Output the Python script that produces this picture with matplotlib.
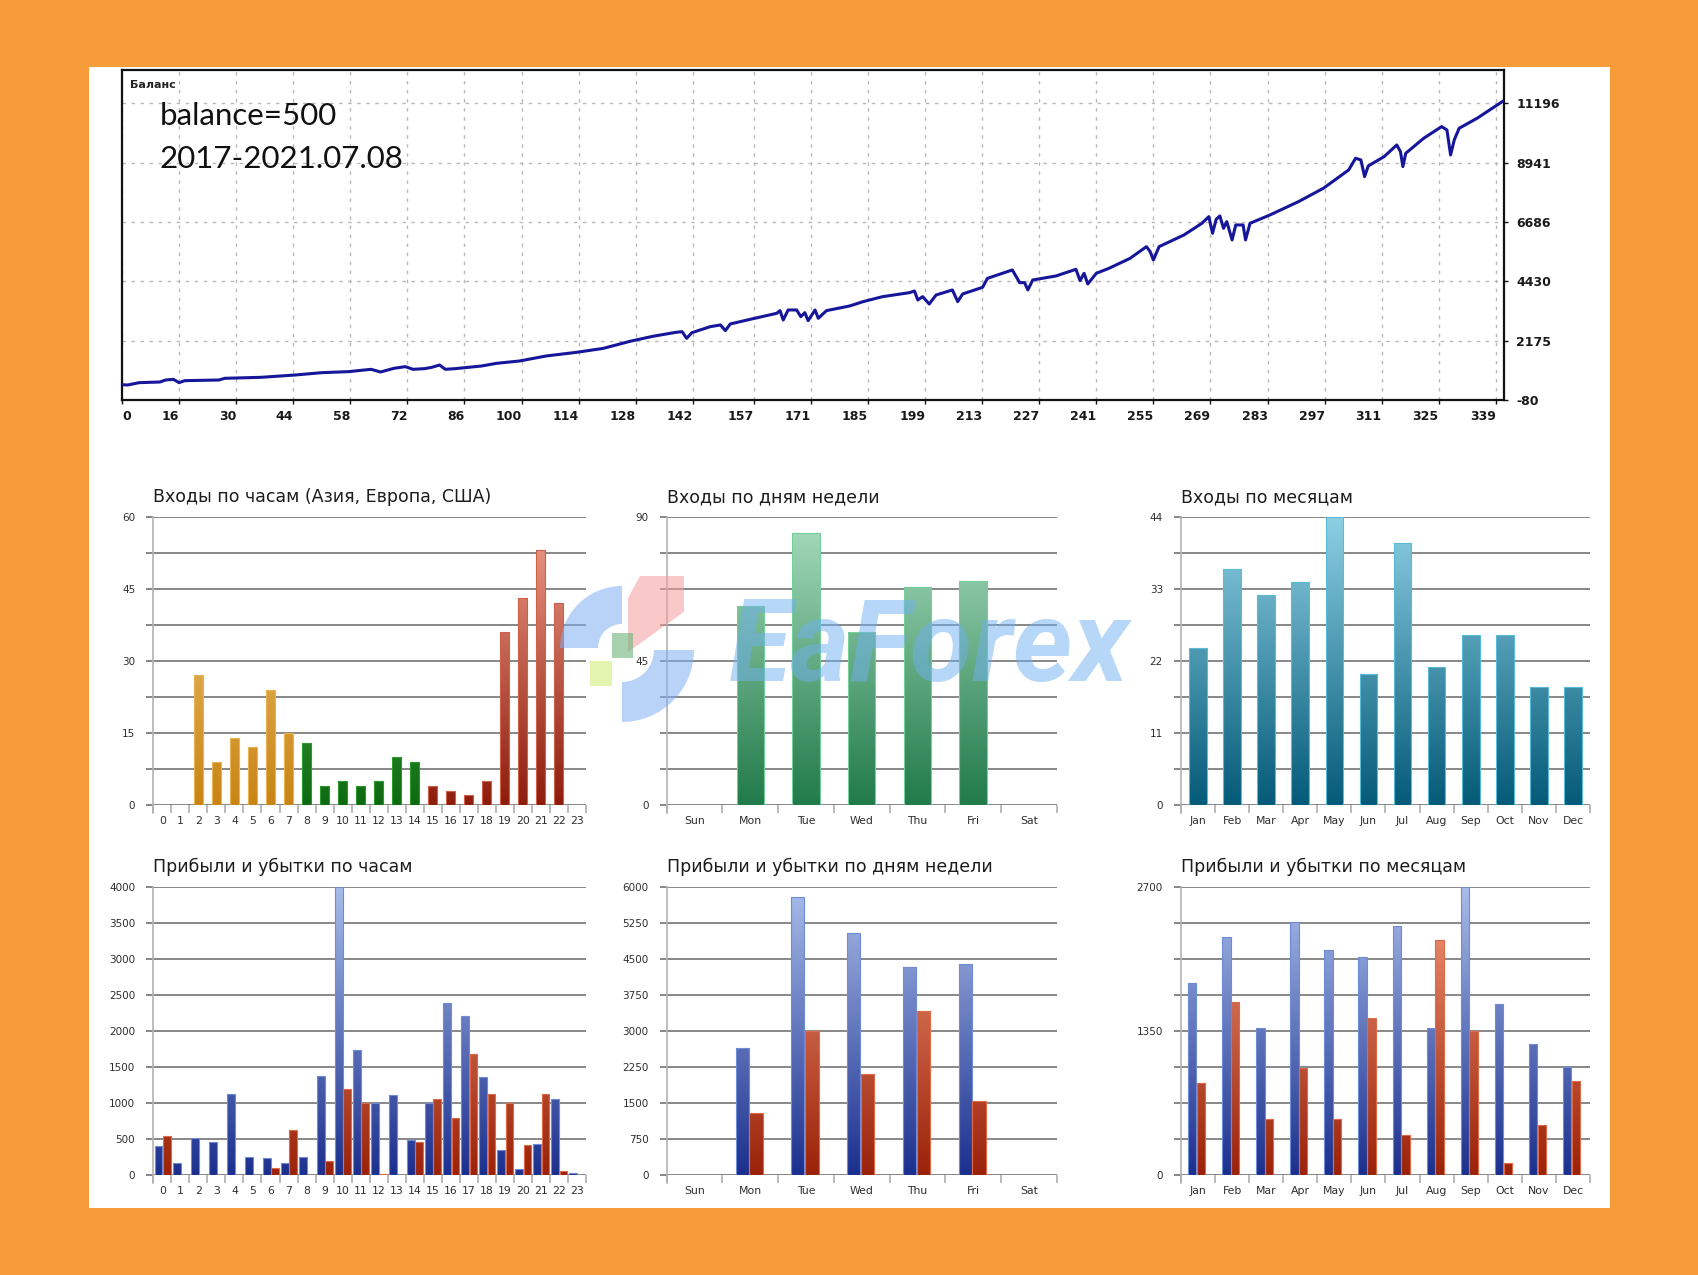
import numpy as np
import matplotlib
matplotlib.use("Agg")
import matplotlib.pyplot as plt
from matplotlib.patches import Rectangle, Wedge, Polygon
from matplotlib.colors import LinearSegmentedColormap

# ---------------- data ----------------
bal_trade = [2, 3.4, 6.2, 11.3, 12.7, 14.6, 16, 17.4, 25.8, 27.2, 36.1, 44.5, 51, 57.5, 63.1, 65.4,
             68.7, 71.5, 73.4, 76.2, 78, 79.9, 81.3, 83.7, 90.2, 93.9, 99.5, 106, 113.5, 120, 126.6,
             132.2, 137.8, 139.4, 140.5, 141.8, 146.3, 148.8, 150, 151.2, 156.1, 162.6, 163.4, 164.2,
             165.4, 167.5, 168.5, 169.5, 170.3, 172, 172.8, 174.8, 180.5, 183.8, 188.6, 195.2, 196.4,
             197.2, 198.4, 200, 201.7, 205.7, 207, 208.2, 213.1, 214.3, 220.4, 222.2, 223.4, 224.2,
             225.4, 231.1, 236, 237, 238, 238.9, 241, 244.1, 249.3, 253.3, 254.2, 255, 256.4, 262.5,
             266.9, 268.6, 269.5, 270.4, 271.3, 272.2, 273, 274.3, 275.2, 277, 277.6, 278.7, 283.6,
             290.6, 296.7, 302.9, 304.6, 305.9, 306.8, 307.7, 311.6, 314.7, 315.6, 316.2, 316.9,
             321.3, 325.7, 327, 327.9, 328.8, 330, 334.4, 340.6]
bal_value = [500, 490, 579, 604, 680, 705, 579, 655, 680, 744, 782, 870, 959, 997, 1086, 984,
             1124, 1187, 1086, 1111, 1162, 1250, 1086, 1111, 1212, 1314, 1402, 1592, 1732, 1880, 2150,
             2340, 2490, 2517, 2264, 2479, 2707, 2771, 2555, 2809, 2986, 3214, 3316, 2961,
             3341, 3341, 3087, 3239, 2935, 3341, 3024, 3316, 3493, 3658, 3848, 4000, 4063,
             3721, 3848, 3569, 3911, 4101, 3658, 3949, 4202, 4544, 4861, 4380, 4380, 4101,
             4481, 4633, 4887, 4456, 4734, 4329, 4735, 4924, 5305, 5748, 5558, 5241, 5748, 6192,
             6635, 6889, 6255, 6787, 6914, 6445, 6698, 6002, 6572, 6572, 6002, 6635, 6952,
             7459, 7966, 8662, 9106, 9042, 8409, 8814, 9169, 9612, 9359, 8789, 9296,
             9866, 10309, 10182, 9232, 9803, 10246, 10626, 11260]
bal_xtick_labels = [0, 16, 30, 44, 58, 72, 86, 100, 114, 128, 142, 157, 171, 185, 199, 213, 227,
                    241, 255, 269, 283, 297, 311, 325, 339]
bal_yticks = [-80, 2175, 4430, 6686, 8941, 11196]
bal_ylim = [-80, 12460]

hour_labels = [str(h) for h in range(24)]
entries_hour = [0, 0, 27, 9, 14, 12, 24, 15, 13, 4, 5, 4, 5, 10, 9, 4, 3, 2, 5, 36, 43, 53, 42, 0]
hour_session = ["asia"] * 8 + ["europe"] * 7 + ["usa"] * 9

day_labels = ["Sun", "Mon", "Tue", "Wed", "Thu", "Fri", "Sat"]
entries_day = [0, 62, 85, 54, 68, 70, 0]

month_labels = ["Jan", "Feb", "Mar", "Apr", "May", "Jun", "Jul", "Aug", "Sep", "Oct", "Nov", "Dec"]
entries_month = [24, 36, 32, 34, 44, 20, 40, 21, 26, 26, 18, 18]

profit_hour = [400, 160, 510, 460, 1120, 250, 230, 160, 250, 1380, 4000, 1730, 1000, 1110, 480,
               1000, 2390, 2200, 1360, 340, 80, 430, 1050, 25]
loss_hour = [540, 0, 0, 0, 0, 0, 100, 620, 0, 200, 1190, 1000, 15, 0, 460, 1050, 790, 1680, 1130,
             1000, 420, 1120, 50, 0]
profit_day = [0, 2650, 5780, 5030, 4320, 4400, 0]
loss_day = [0, 1300, 3000, 2100, 3410, 1550, 0]
profit_month = [1800, 2225, 1380, 2370, 2110, 2045, 2335, 1375, 2700, 1600, 1225, 1015]
loss_month = [860, 1620, 520, 1000, 520, 1470, 375, 2200, 1350, 110, 470, 885]

yt_entries_hour = [0, 7.5, 15, 22.5, 30, 37.5, 45, 52.5, 60]
yl_entries_hour = ["0", "", "15", "", "30", "", "45", "", "60"]
yt_entries_day = [0, 11.25, 22.5, 33.75, 45, 56.25, 67.5, 78.75, 90]
yl_entries_day = ["0", "", "", "", "45", "", "", "", "90"]
yt_entries_month = [0, 5.5, 11, 16.5, 22, 27.5, 33, 38.5, 44]
yl_entries_month = ["0", "", "11", "", "22", "", "33", "", "44"]
yt_pl_hour = [0, 500, 1000, 1500, 2000, 2500, 3000, 3500, 4000]
yl_pl_hour = ["0", "500", "1000", "1500", "2000", "2500", "3000", "3500", "4000"]
yt_pl_day = [0, 750, 1500, 2250, 3000, 3750, 4500, 5250, 6000]
yl_pl_day = ["0", "750", "1500", "2250", "3000", "3750", "4500", "5250", "6000"]
yt_pl_month = [0, 337.5, 675, 1012.5, 1350, 1687.5, 2025, 2362.5, 2700]
yl_pl_month = ["0", "", "", "", "1350", "", "", "", "2700"]

titles = ["Входы по часам (Азия, Европа, США)", "Входы по дням недели", "Входы по месяцам",
          "Прибыли и убытки по часам", "Прибыли и убытки по дням недели",
          "Прибыли и убытки по месяцам"]

# ---------------- styling ----------------
W, H, DPI = 1699, 1275, 100
plt.rcParams["font.family"] = ["DejaVu Sans"]
fig = plt.figure(figsize=(W / DPI, H / DPI), dpi=DPI, facecolor="#F89B3A")


def fx(x):
    return x / W


def fy(y):
    return 1 - y / H


fig.patches.append(Rectangle((fx(89), fy(1208)), fx(1610) - fx(89), fy(67) - fy(1208),
                             transform=fig.transFigure, facecolor="white", edgecolor="none",
                             zorder=-1))

# ---- balance chart ----
axb = fig.add_axes([fx(122), fy(400), fx(1504) - fx(122), fy(70) - fy(400)])
axb.set_facecolor("white")
axb.plot(bal_trade, bal_value, color="#16169a", lw=2.2, solid_joinstyle="round", zorder=3)
axb.set_xlim(bal_trade[0], 341)
axb.set_ylim(*bal_ylim)
xt_pos = np.clip(np.array(bal_xtick_labels, dtype=float), bal_trade[0], None)
axb.set_xticks(xt_pos)
axb.set_xticklabels([str(v) for v in bal_xtick_labels])
for i, lab in enumerate(axb.get_xticklabels()):
    lab.set_ha("left" if i == 0 else "right")
axb.yaxis.tick_right()
axb.set_yticks(bal_yticks)
axb.set_yticklabels([str(v) for v in bal_yticks])
axb.grid(True, color="#b9b9b9", linestyle=(0, (2.5, 4.0)), lw=1.0)
for s in axb.spines.values():
    s.set_color("#111111")
    s.set_linewidth(1.6)
axb.tick_params(axis="both", direction="out", length=3, width=1, color="#111111",
                labelsize=9, labelcolor="#1a1a1a")
axb.tick_params(axis="x", pad=4)
axb.tick_params(axis="y", pad=6)
for lab in axb.get_xticklabels() + axb.get_yticklabels():
    lab.set_fontweight("bold")

fig.text(fx(130), fy(85), "Баланс", fontsize=8, fontweight="bold", color="#222222",
         va="center", ha="left")
fig.text(fx(160), fy(116), "balance=500", fontsize=22.5, family=["Lato", "DejaVu Sans"],
         color="#111111", va="center", ha="left")
fig.text(fx(160), fy(159), "2017-2021.07.08", fontsize=22.5, family=["Lato", "DejaVu Sans"],
         color="#111111", va="center", ha="left")

GRID = "#7e7e7e"
TICKC = "#2e2e2e"


def make_ax(left, right, top, bottom):
    return fig.add_axes([fx(left), fy(bottom), fx(right) - fx(left), fy(top) - fy(bottom)])


def style(ax, labels, yt, yl):
    n = len(labels)
    ymax = yt[-1]
    ax.set_xlim(-0.5, n - 0.5)
    ax.set_ylim(0, ymax)
    ax.set_facecolor("none")
    for s in ("top", "right", "bottom"):
        ax.spines[s].set_visible(False)
    ax.spines["left"].set_color("#b3b3b3")
    ax.spines["left"].set_linewidth(1.2)
    ax.spines["left"].set_bounds(-ymax * 0.028, ymax)
    ax.set_yticks(yt)
    ax.set_yticklabels(yl)
    ax.yaxis.grid(True, color=GRID, lw=1.3)
    ax.set_axisbelow(True)
    ax.tick_params(axis="y", length=5, width=1.3, color=GRID, pad=8, labelsize=7.5,
                   labelcolor=TICKC)
    ax.set_xticks(np.arange(n + 1) - 0.5)
    ax.set_xticklabels([])
    ax.set_xticks(np.arange(n), minor=True)
    ax.set_xticklabels(labels, minor=True)
    ax.tick_params(axis="x", which="major", length=6, width=1.1, color="#a8a8a8")
    ax.tick_params(axis="x", which="minor", length=0, pad=8, labelsize=7.8, labelcolor=TICKC)


GRAD = np.linspace(0, 1, 256).reshape(-1, 1)


def gradient_bars(ax, bars, c_bottom, c_top, edge, ymax):
    cmap = LinearSegmentedColormap.from_list("g", [c_bottom, c_top])
    for b in bars:
        h = b.get_height()
        b.set_facecolor("none")
        b.set_edgecolor(edge)
        b.set_linewidth(0.8)
        b.set_zorder(3.2)
        if h <= 0:
            b.set_visible(False)
            continue
        x0, w = b.get_x(), b.get_width()
        im = ax.imshow(GRAD, extent=(x0, x0 + w, 0, ymax), origin="lower", cmap=cmap,
                       aspect="auto", zorder=3.1, interpolation="bilinear")
        im.set_clip_path(b)


COLS = [(153.3, 586), (666.7, 1056.7), (1181, 1590)]
ROWS = [(516.7, 805), (886.7, 1175)]
TITLE_Y = [497, 867]

SESSION_COL = {"asia": ("#C98414", "#F6CF86", "#E9B450"),
               "europe": ("#0E6A10", "#6FC06F", "#2C9A2C"),
               "usa": ("#8E1C0C", "#F0A08C", "#D0604A")}
BLUE = ("#1B2F8E", "#A9BDEA", "#6E8BD8")
RED = ("#9A2208", "#F4997A", "#E06A48")

# chart 1 - entries by hour
ax = make_ax(COLS[0][0], COLS[0][1], *ROWS[0])
style(ax, hour_labels, yt_entries_hour, yl_entries_hour)
xh = np.arange(len(hour_labels))
bars = ax.bar(xh, entries_hour, width=0.5)
for b, sess in zip(bars, hour_session):
    cb, ct, ce = SESSION_COL[sess]
    gradient_bars(ax, [b], cb, ct, ce, yt_entries_hour[-1])

# chart 2 - entries by day
ax = make_ax(COLS[1][0], COLS[1][1], *ROWS[0])
style(ax, day_labels, yt_entries_day, yl_entries_day)
bars = ax.bar(np.arange(len(day_labels)), entries_day, width=0.49)
gradient_bars(ax, bars, "#217A4A", "#A8DDBE", "#74CF98", yt_entries_day[-1])

# chart 3 - entries by month
ax = make_ax(COLS[2][0], COLS[2][1], *ROWS[0])
style(ax, month_labels, yt_entries_month, yl_entries_month)
bars = ax.bar(np.arange(len(month_labels)), entries_month, width=0.52)
gradient_bars(ax, bars, "#045A78", "#8ED0E4", "#58BCD8", yt_entries_month[-1])

# chart 4 - P/L by hour
ax = make_ax(COLS[0][0], COLS[0][1], *ROWS[1])
style(ax, hour_labels, yt_pl_hour, yl_pl_hour)
bp = ax.bar(xh - 0.21, profit_hour, width=0.44)
br = ax.bar(xh + 0.25, loss_hour, width=0.42)
gradient_bars(ax, bp, BLUE[0], BLUE[1], BLUE[2], yt_pl_hour[-1])
gradient_bars(ax, br, RED[0], RED[1], RED[2], yt_pl_hour[-1])

# chart 5 - P/L by day
ax = make_ax(COLS[1][0], COLS[1][1], *ROWS[1])
style(ax, day_labels, yt_pl_day, yl_pl_day)
xd = np.arange(len(day_labels))
bp = ax.bar(xd - 0.145, profit_day, width=0.235)
br = ax.bar(xd + 0.105, loss_day, width=0.24)
gradient_bars(ax, bp, BLUE[0], BLUE[1], BLUE[2], yt_pl_day[-1])
gradient_bars(ax, br, RED[0], RED[1], RED[2], yt_pl_day[-1])

# chart 6 - P/L by month
ax = make_ax(COLS[2][0], COLS[2][1], *ROWS[1])
style(ax, month_labels, yt_pl_month, yl_pl_month)
xm = np.arange(len(month_labels))
bp = ax.bar(xm - 0.17, profit_month, width=0.245)
br = ax.bar(xm + 0.085, loss_month, width=0.245)
gradient_bars(ax, bp, BLUE[0], BLUE[1], BLUE[2], yt_pl_month[-1])
gradient_bars(ax, br, RED[0], RED[1], RED[2], yt_pl_month[-1])

for i, t in enumerate(titles):
    r, c = divmod(i, 3)
    fig.text(fx(COLS[c][0]), fy(TITLE_Y[r]), t, fontsize=12.5, color="#1c1c1c",
             va="center", ha="left")

# ---- watermark overlay (pixel coordinates, y pointing down) ----
ov = fig.add_axes([0, 0, 1, 1], zorder=10)
ov.set_xlim(0, W)
ov.set_ylim(H, 0)
ov.axis("off")
ov.patch.set_visible(False)
ov.add_patch(Wedge((622, 648), 62, 180, 270, width=38, facecolor="#7FB0F2", alpha=0.55,
                   edgecolor="none"))
ov.add_patch(Wedge((622, 650), 72, 0, 90, width=40, facecolor="#7FB0F2", alpha=0.55,
                   edgecolor="none"))
ov.add_patch(Polygon([(640, 576), (684, 576), (684, 612), (628, 652), (628, 598)],
                     closed=True, facecolor="#F59C9C", alpha=0.55, edgecolor="none"))
ov.add_patch(Rectangle((612, 633), 21, 25, facecolor="#6DB47A", alpha=0.6, edgecolor="none"))
ov.add_patch(Rectangle((590, 661), 22, 25, facecolor="#D6F08A", alpha=0.7, edgecolor="none"))
ov.text(929, 650, "EaForex", fontsize=82, fontweight="bold", style="italic",
        family=["Roboto", "DejaVu Sans"], color="#6FB0F0", alpha=0.5,
        ha="center", va="center")

fig.savefig("out.png", dpi=DPI, facecolor=fig.get_facecolor())
